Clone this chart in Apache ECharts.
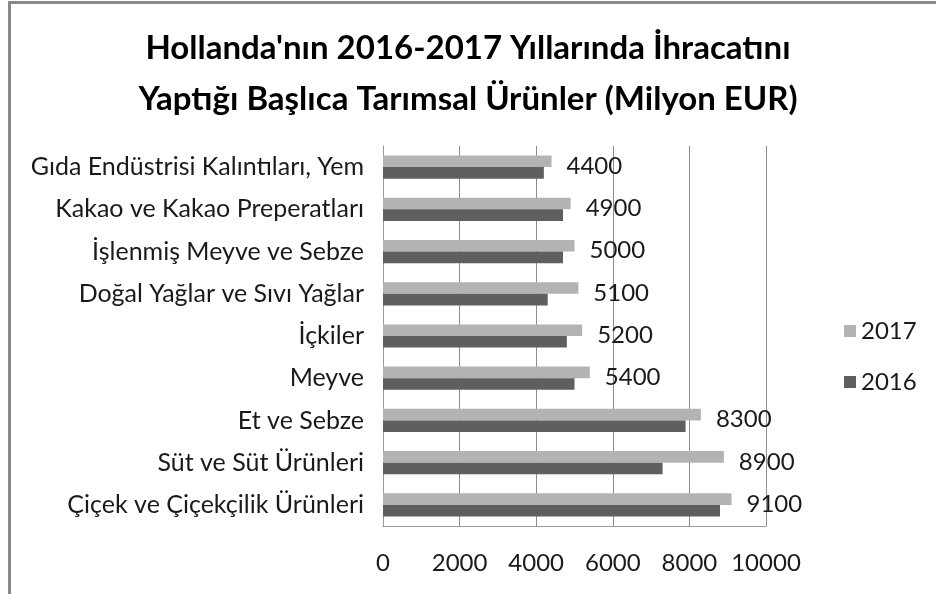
<!DOCTYPE html>
<html>
<head>
<meta charset="utf-8">
<script src="https://cdn.jsdelivr.net/npm/echarts@6/dist/echarts.min.js"></script>
<style>
  html, body { margin: 0; padding: 0; background: #fff; }
  #frame {
    position: absolute; left: 8px; top: 1px; width: 940px; height: 591px;
    border-left: 3px solid #888; border-top: 3px solid #888; border-bottom: 1px solid #bbb;
  }
  #chart { position: absolute; left: 0; top: 0; width: 936px; height: 594px; }
</style>
</head>
<body>
<div id="frame"></div>
<div id="chart"></div>
<script>
  // categories listed bottom to top
  const categories = [
    'Çiçek ve Çiçekçilik Ürünleri',
    'Süt ve Süt Ürünleri',
    'Et ve Sebze',
    'Meyve',
    'İçkiler',
    'Doğal Yağlar ve Sıvı Yağlar',
    'İşlenmiş Meyve ve Sebze',
    'Kakao ve Kakao Preperatları',
    'Gıda Endüstrisi Kalıntıları, Yem'
  ]
  const values2016 = [8800, 7300, 7900, 5000, 4800, 4300, 4700, 4700, 4200]
  const values2017 = [9100, 8900, 8300, 5400, 5200, 5100, 5000, 4900, 4400]
  const xTicks = [0, 2000, 4000, 6000, 8000, 10000]

  const font = 'Lato'
  const txt = '#1a1a1a'
  const chart = echarts.init(document.getElementById('chart'))

  const option = {
    animation: false,
    title: {
      text: "Hollanda'nın 2016-2017 Yıllarında İhracatını\nYaptığı Başlıca Tarımsal Ürünler (Milyon EUR)",
      left: 'center',
      top: 18,
      textStyle: {
        fontFamily: font,
        fontWeight: 'bold',
        fontSize: 33,
        lineHeight: 51,
        color: '#000'
      }
    },
    legend: {
      orient: 'vertical',
      left: 839,
      top: 314,
      itemWidth: 12,
      itemHeight: 12,
      itemGap: 27,
      icon: 'rect',
      data: ['2017', '2016'],
      textStyle: { fontFamily: font, fontSize: 24, color: txt }
    },
    grid: {
      left: 383,
      right: 170,
      top: 146,
      bottom: 68,
      containLabel: false
    },
    xAxis: {
      type: 'value',
      min: xTicks[0],
      max: xTicks[xTicks.length - 1],
      interval: 2000,
      axisLine: { show: true, lineStyle: { color: '#999' } },
      axisTick: { show: false },
      axisLabel: {
        margin: 25,
        fontFamily: font,
        fontSize: 24,
        color: txt,
        formatter: (val) => String(val)
      },
      splitLine: { show: true, lineStyle: { color: '#8c8c8c', width: 1 } }
    },
    yAxis: {
      type: 'category',
      data: categories,
      axisLine: { show: true, lineStyle: { color: '#999' } },
      axisTick: { show: false },
      axisLabel: { margin: 19, fontFamily: font, fontSize: 25, color: txt }
    },
    series: [
      {
        name: '2017',
        type: 'bar',
        data: values2017,
        barGap: '0%',
        barCategoryGap: '45%',
        itemStyle: { color: '#b3b3b3' },
        label: {
          show: true,
          position: 'right',
          distance: 15,
          offset: [0, 5],
          fontFamily: font,
          fontSize: 24,
          color: txt
        }
      },
      {
        name: '2016',
        type: 'bar',
        data: values2016,
        barGap: '0%',
        barCategoryGap: '45%',
        itemStyle: { color: '#5f5f5f' }
      }
    ]
  }

  chart.setOption(option)
</script>
</body>
</html>
